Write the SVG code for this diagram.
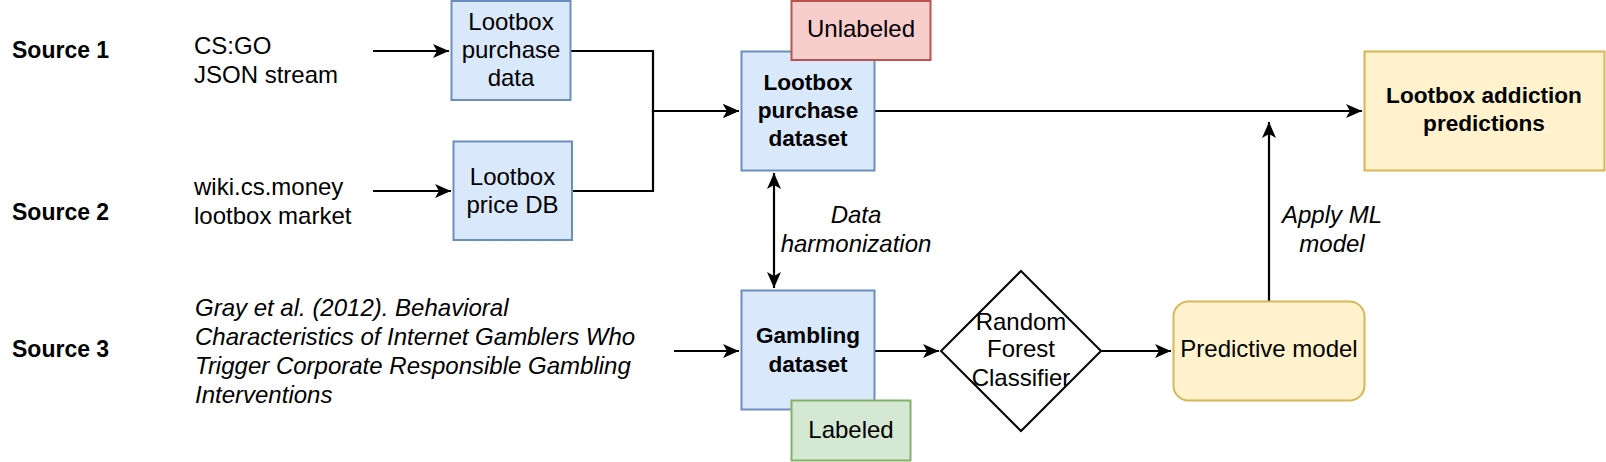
<svg xmlns="http://www.w3.org/2000/svg" width="1606" height="462" viewBox="0 0 1606 462">
<style>
text{font-family:"Liberation Sans",Arial,sans-serif;font-size:24px;fill:#000}
.b{font-weight:bold;font-size:22.6px}
.s{font-weight:bold;font-size:23px}
.i{font-style:italic}
.c{text-anchor:middle}
.blue{fill:#dae8fc;stroke:#6c8ebf;stroke-width:2}
.red{fill:#f8cecc;stroke:#b85450;stroke-width:2}
.green{fill:#d5e8d4;stroke:#82b366;stroke-width:2}
.yellow{fill:#fff2cc;stroke:#d6b656;stroke-width:2}
.edge{fill:none;stroke:#000;stroke-width:2.2}
</style>
<defs>
<marker id="arr" markerUnits="userSpaceOnUse" markerWidth="18" markerHeight="16" refX="16" refY="8" orient="auto-start-reverse" viewBox="0 0 18 16">
<path d="M16,8 L0,1 L4,8 L0,15 Z" fill="#000"/>
</marker>
</defs>
<rect width="1606" height="462" fill="#fff"/>
<g id="labels">
<text class="s" x="12" y="58">Source 1</text>
<text class="s" x="12" y="220">Source 2</text>
<text class="s" x="12" y="357">Source 3</text>
<text x="194" y="54">CS:GO</text>
<text x="194" y="83">JSON stream</text>
<text x="194" y="195">wiki.cs.money</text>
<text x="194" y="224">lootbox market</text>
<text class="i" x="195" y="316">Gray et al. (2012). Behavioral</text>
<text class="i" x="195" y="345">Characteristics of Internet Gamblers Who</text>
<text class="i" x="195" y="374">Trigger Corporate Responsible Gambling</text>
<text class="i" x="195" y="403">Interventions</text>
<text class="i c" x="856" y="223">Data</text>
<text class="i c" x="856" y="252">harmonization</text>
<text class="i c" x="1332" y="223">Apply ML</text>
<text class="i c" x="1332" y="252">model</text>
</g>
<g id="connectors">
<path class="edge" d="M373,51 H449" marker-end="url(#arr)"/>
<path class="edge" d="M373,191 H451" marker-end="url(#arr)"/>
<path class="edge" d="M571,51 H653 V111 H739" marker-end="url(#arr)"/>
<path class="edge" d="M573,191 H653 V111 H739" marker-end="url(#arr)"/>
<path class="edge" d="M875,111 H1362" marker-end="url(#arr)"/>
<path class="edge" d="M774,173 V288" marker-start="url(#arr)" marker-end="url(#arr)"/>
<path class="edge" d="M674,351 H739" marker-end="url(#arr)"/>
<path class="edge" d="M875,351 H939" marker-end="url(#arr)"/>
<path class="edge" d="M1101,351 H1171" marker-end="url(#arr)"/>
<path class="edge" d="M1269,301 V122" marker-end="url(#arr)"/>
</g>
<g id="lootbox-purchase-data">
<rect class="blue" x="451.5" y="1" width="119" height="99"/>
<text class="c" x="511" y="30">Lootbox</text>
<text class="c" x="511" y="58">purchase</text>
<text class="c" x="511" y="86">data</text>
</g>
<g id="lootbox-price-db">
<rect class="blue" x="453.5" y="141.5" width="118.5" height="98.5"/>
<text class="c" x="512.5" y="185">Lootbox</text>
<text class="c" x="512.5" y="213">price DB</text>
</g>
<g id="lootbox-purchase-dataset">
<rect class="blue" x="741.5" y="51.5" width="133" height="119"/>
<text class="b c" x="808" y="90">Lootbox</text>
<text class="b c" x="808" y="118">purchase</text>
<text class="b c" x="808" y="146">dataset</text>
</g>
<g id="unlabeled">
<rect class="red" x="791.5" y="1" width="139" height="59"/>
<text class="c" x="861" y="37">Unlabeled</text>
</g>
<g id="gambling-dataset">
<rect class="blue" x="741.5" y="290.5" width="133" height="119"/>
<text class="b c" x="808" y="343">Gambling</text>
<text class="b c" x="808" y="372">dataset</text>
</g>
<g id="labeled">
<rect class="green" x="791.5" y="400.5" width="119" height="60"/>
<text class="c" x="851" y="438">Labeled</text>
</g>
<g id="random-forest">
<polygon points="1021,271 1101,351 1021,431 941,351" fill="#fff" stroke="#000" stroke-width="2"/>
<text class="c" x="1021" y="330">Random</text>
<text class="c" x="1021" y="357">Forest</text>
<text class="c" x="1021" y="386">Classifier</text>
</g>
<g id="predictive-model">
<rect class="yellow" x="1173.5" y="301.5" width="191" height="99" rx="15"/>
<text class="c" x="1269" y="357">Predictive model</text>
</g>
<g id="predictions">
<rect class="yellow" x="1364.5" y="51.5" width="240" height="119"/>
<text class="b c" x="1484" y="103">Lootbox addiction</text>
<text class="b c" x="1484" y="131">predictions</text>
</g>
</svg>
